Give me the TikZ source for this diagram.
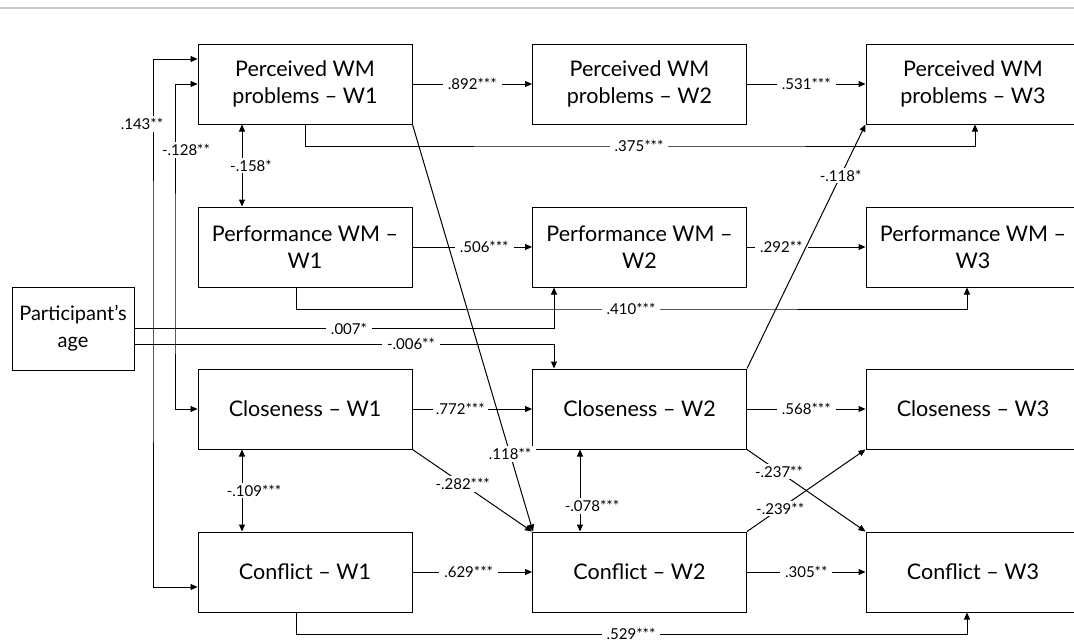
\documentclass[tikz,border=0pt]{standalone}
\usepackage{fontspec}
\setmainfont{Lato}
\usetikzlibrary{arrows.meta,calc}
\begin{document}
\begin{tikzpicture}[x=1pt,y=-1pt,
  box/.style={draw, line width=1pt, minimum width=214pt, minimum height=80pt,
    align=center, inner sep=0pt, font=\fontsize{21.5}{27}\selectfont},
  lbl/.style={fill=white, inner xsep=5pt, inner ysep=2pt,
    font=\fontsize{15}{16}\selectfont},
  link/.style={line width=1pt, -{Triangle[length=7pt,width=6pt]}},
  cov/.style={line width=1pt, {Triangle[length=7pt,width=6pt]}-{Triangle[length=7pt,width=6pt]}},
]
\clip (0,0) rectangle (1074,641);
\fill[white] (0,0) rectangle (1074,641);
\draw[black!20, line width=2pt] (0,8) -- (1074,8);

% variables: three waves in columns, four constructs in rows
\node[box] (pw1) at (305,84)   {Perceived WM\\problems – W1};
\node[box] (pw2) at (639.5,84) {Perceived WM\\problems – W2};
\node[box] (pw3) at (973,84)   {Perceived WM\\problems – W3};
\node[box] (pf1) at (305,247)   {Performance WM –\\W1};
\node[box] (pf2) at (639.5,247) {Performance WM –\\W2};
\node[box] (pf3) at (973,247)   {Performance WM –\\W3};
\node[box] (cl1) at (305,409)   {Closeness – W1};
\node[box] (cl2) at (639.5,409) {Closeness – W2};
\node[box] (cl3) at (973,409)   {Closeness – W3};
\node[box] (cf1) at (305,572)   {Conflict – W1};
\node[box] (cf2) at (639.5,572) {Conflict – W2};
\node[box] (cf3) at (973,572)   {Conflict – W3};
\node[box, minimum width=122pt, minimum height=83pt, font=\fontsize{20}{27}\selectfont]
  (age) at (73,328.5) {Participant’s\\age};

% routing points
\coordinate (v143) at (153,300);
\coordinate (v128) at (175,300);
\coordinate (x242) at (242,0);
\coordinate (x554) at (554,0);
\coordinate (x580) at (580,0);
\coordinate (c375) at (639,146);
\coordinate (c410) at (631,309);
\coordinate (c529) at (631,634);
\coordinate (c007) at (349,328.5);
\coordinate (c006) at (411,344);

% age effects
\draw[cov, line width=0.7pt] ([yshift=25pt]pw1.west) -| (v143) |- ([yshift=-15pt]cf1.west);
\draw[cov, line width=0.7pt] (pw1.west) -| (v128) |- (cl1.west);
\node[lbl, inner xsep=1pt] (l143) at (142,124) {.143**};
\node[lbl, inner xsep=1pt] (l128) at (186,150) {-.128**};
\draw[link] (age.east) -| (pf2.south -| x554);
\node[lbl] (l007) at (c007) {.007*};
\draw[link] ([yshift=-15.5pt]age.east) -| (cl2.north -| x554);
\node[lbl] (l006) at (c006) {-.006**};

% perceived WM problems
\draw[link] (pw1) -- node[lbl] (l892) {.892***} (pw2);
\draw[link] (pw2) -- node[lbl] (l531) {.531***} (pw3);
\draw[link] (pw1.south) |- (c375) -| ([xshift=2pt]pw3.south);
\node[lbl] (l375) at (c375) {.375***};
\draw[cov] (pw1.south -| x242) -- node[lbl, xshift=9pt] (l158) {-.158*} (pf1.north -| x242);

% performance WM
\draw[link] (pf1) -- node[lbl, pos=0.6] (l506) {.506***} (pf2);
\draw[link] (pf2) -- node[lbl, pos=0.29] (l292) {.292**} (pf3);
\draw[link] ([xshift=-9pt]pf1.south) |- (c410) -| ([xshift=-6pt]pf3.south);
\node[lbl] (l410) at (c410) {.410***};

% closeness
\draw[link] (cl1) -- node[lbl, pos=0.4, inner xsep=3pt] (l772) {.772***} (cl2);
\draw[link] (cl2) -- node[lbl] (l568) {.568***} (cl3);
\draw[cov] (cl1.south -| x242) -- node[lbl, xshift=12pt] (l109) {-.109***} (cf1.north -| x242);
\draw[cov] (cl2.south -| x580) -- node[lbl, pos=0.69, xshift=12pt] (l078) {-.078***} (cf2.north -| x580);

% conflict
\draw[link] (cf1) -- node[lbl, pos=0.47] (l629) {.629***} (cf2);
\draw[link] (cf2) -- node[lbl] (l305) {.305**} (cf3);
\draw[link] ([xshift=-9pt]cf1.south) |- (c529) -| ([xshift=-6pt]cf3.south);
\node[lbl] (l529) at (c529) {.529***};

% cross-lagged paths
\draw[link] (pw1.south east) -- node[lbl, pos=0.81] (l118b) {.118**} ([xshift=1pt]cf2.north west);
\draw[link] (cl1.south east) -- node[lbl, pos=0.42] (l282) {-.282***} (cf2.north west);
\draw[link] (cl2.north east) -- node[lbl, pos=0.79] (l118a) {-.118*} (pw3.south west);
\draw[link] (cl2.south east) -- node[lbl, pos=0.27] (l237) {-.237**} (cf3.north west);
\draw[link] (cf2.north east) -- node[lbl, pos=0.28] (l239) {-.239**} (cl3.south west);
\end{tikzpicture}
\end{document}
